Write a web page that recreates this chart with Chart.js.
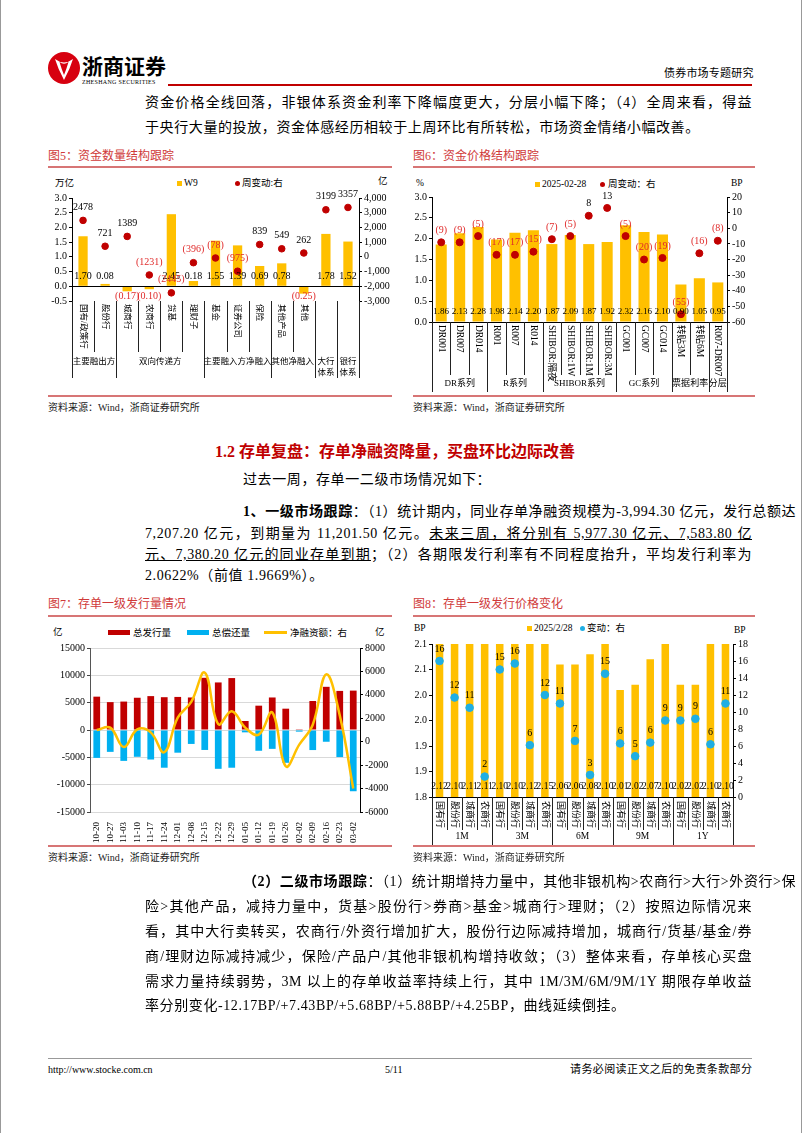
<!DOCTYPE html>
<html>
<head>
<meta charset="utf-8">
<script src="https://cdn.jsdelivr.net/npm/chart.js@4.4.1/dist/chart.umd.min.js"></script>
<style>
body{margin:0;width:802px;height:1133px;position:relative;background:#fff;overflow:hidden;
  font-family:"Liberation Serif","Noto Sans CJK SC",serif;color:#000}
.a{position:absolute;white-space:nowrap}
.p{position:absolute;font-size:14px;line-height:20px;letter-spacing:0.6px;white-space:nowrap}
.j{text-align:justify;text-align-last:justify}
.ft{font-size:12px;color:#D03A3A;line-height:14px}
.src{font-size:10px;line-height:12px;color:#222}
.lg{position:absolute;font-size:9.5px;line-height:12px;white-space:nowrap}
.rule{position:absolute;height:2px;background:#D77575}
canvas{position:absolute}
</style>
</head>
<body>
<div style="position:absolute;left:0;top:0;width:1px;height:1133px;background:#999"></div>
<div style="position:absolute;left:801px;top:0;width:1px;height:1133px;background:#999"></div>

<!-- header -->
<svg style="position:absolute;left:47px;top:51px" width="34" height="34" viewBox="0 0 34 34">
  <circle cx="17" cy="17" r="16" fill="#D7000F"/>
  <path d="M8 8 Q17 15 26 8 Q23 18 17 29 Q11 18 8 8Z" fill="#fff"/>
  <path d="M12.5 11 Q17 14.5 21.5 11 Q19.5 18 17 24 Q14.5 18 12.5 11Z" fill="#D7000F"/>
</svg>
<div class="a" style="left:82px;top:52px;font-size:21px;font-weight:bold;line-height:26px;font-family:'Noto Sans CJK SC'">浙商证券</div>
<div class="a" style="left:82px;top:79px;font-size:6px;line-height:7px;letter-spacing:0.3px">ZHESHANG SECURITIES</div>
<div class="a" style="left:664px;top:66px;font-size:11px;line-height:14px;letter-spacing:0.2px">债券市场专题研究</div>
<div style="position:absolute;left:168px;top:84px;width:584px;height:2px;background:#C00000"></div>

<div class="p j" style="left:145px;top:93px;width:607px">资金价格全线回落，非银体系资金利率下降幅度更大，分层小幅下降；（4）全周来看，得益</div>
<div class="p" style="left:145px;top:118px">于央行大量的投放，资金体感经历相较于上周环比有所转松，市场资金情绪小幅改善。</div>

<!-- figure 5 / 6 -->
<div class="a ft" style="left:48px;top:149px">图5：资金数量结构跟踪</div>
<div class="a ft" style="left:413px;top:149px">图6：资金价格结构跟踪</div>
<div class="rule" style="left:48px;top:166px;width:344px"></div>
<div class="rule" style="left:413px;top:166px;width:342px"></div>

<div class="lg" style="left:55px;top:177px">万亿</div>
<div class="lg" style="left:378px;top:175px">亿</div>
<div class="lg" style="left:177px;top:177px"><span style="display:inline-block;width:5px;height:5px;background:#FFC000;margin-right:2px"></span>W9</div>
<div class="lg" style="left:235px;top:177px"><span style="display:inline-block;width:5px;height:5px;border-radius:50%;background:#C00000;margin-right:2px"></span>周变动:右</div>

<div class="lg" style="left:416px;top:177px">%</div>
<div class="lg" style="left:731px;top:177px">BP</div>
<div class="lg" style="left:535px;top:178px"><span style="display:inline-block;width:5px;height:5px;background:#FFC000;margin-right:2px"></span>2025-02-28</div>
<div class="lg" style="left:600px;top:178px"><span style="display:inline-block;width:5px;height:5px;border-radius:50%;background:#C00000;margin-right:3px"></span>周变动：右</div>

<canvas id="c5" width="360" height="225" style="left:40px;top:170px"></canvas>
<canvas id="c6" width="355" height="225" style="left:405px;top:170px"></canvas>

<div class="rule" style="left:48px;top:395px;width:344px"></div>
<div class="rule" style="left:413px;top:395px;width:342px"></div>
<div class="a src" style="left:48px;top:402px">资料来源：Wind，浙商证券研究所</div>
<div class="a src" style="left:413px;top:402px">资料来源：Wind，浙商证券研究所</div>

<!-- section 1.2 -->
<div class="a" style="left:215px;top:442px;font-size:16px;line-height:20px;font-weight:bold;color:#C00000">1.2 存单复盘：存单净融资降量，买盘环比边际改善</div>
<div class="p" style="left:243px;top:470px">过去一周，存单一二级市场情况如下：</div>
<div class="p j" style="left:243px;top:502px;width:509px"><b>1、一级市场跟踪</b>：（1）统计期内，同业存单净融资规模为-3,994.30 亿元，发行总额达</div>
<div class="p j" style="left:145px;top:524px;width:607px">7,207.20 亿元，到期量为 11,201.50 亿元。<u>未来三周，将分别有 5,977.30 亿元、7,583.80 亿</u></div>
<div class="p j" style="left:145px;top:545px;width:607px"><u>元、7,380.20 亿元的同业存单到期</u>；（2）各期限发行利率有不同程度抬升，平均发行利率为</div>
<div class="p" style="left:145px;top:566px">2.0622%（前值 1.9669%）。</div>

<!-- figure 7 / 8 -->
<div class="a ft" style="left:48px;top:597px">图7：存单一级发行量情况</div>
<div class="a ft" style="left:413px;top:597px">图8：存单一级发行价格变化</div>
<div class="rule" style="left:48px;top:615px;width:344px"></div>
<div class="rule" style="left:413px;top:615px;width:342px"></div>

<div class="lg" style="left:53px;top:626px">亿</div>
<div class="lg" style="left:375px;top:626px">亿</div>
<div class="lg" style="left:108px;top:627px"><span style="display:inline-block;width:22px;height:5px;background:#C00000;margin-right:3px;vertical-align:1px"></span>总发行量</div>
<div class="lg" style="left:187px;top:627px"><span style="display:inline-block;width:22px;height:5px;background:#00B0F0;margin-right:3px;vertical-align:1px"></span>总偿还量</div>
<div class="lg" style="left:264px;top:627px"><span style="display:inline-block;width:23px;height:3px;background:#FFC000;margin-right:3px;vertical-align:2px"></span>净融资额：右</div>

<div class="lg" style="left:414px;top:622px">BP</div>
<div class="lg" style="left:734px;top:624px">BP</div>
<div class="lg" style="left:527px;top:622px"><span style="display:inline-block;width:5px;height:5px;background:#FFC000;margin-right:2px"></span>2025/2/28</div>
<div class="lg" style="left:580px;top:622px"><span style="display:inline-block;width:5px;height:5px;border-radius:50%;background:#1FAEE3;margin-right:2px"></span>变动：右</div>

<canvas id="c7" width="360" height="225" style="left:40px;top:620px"></canvas>
<canvas id="c8" width="355" height="226" style="left:405px;top:620px"></canvas>

<div class="rule" style="left:48px;top:845px;width:344px"></div>
<div class="rule" style="left:413px;top:845px;width:342px"></div>
<div class="a src" style="left:48px;top:852px">资料来源：Wind，浙商证券研究所</div>
<div class="a src" style="left:413px;top:852px">资料来源：Wind，浙商证券研究所</div>

<!-- secondary market text -->
<div class="p j" style="left:243px;top:872px;width:509px"><b>（2）二级市场跟踪</b>：（1）统计期增持力量中，其他非银机构&gt;农商行&gt;大行&gt;外资行&gt;保</div>
<div class="p j" style="left:145px;top:897px;width:607px">险&gt;其他产品，减持力量中，货基&gt;股份行&gt;券商&gt;基金&gt;城商行&gt;理财；（2）按照边际情况来</div>
<div class="p j" style="left:145px;top:922px;width:607px">看，其中大行卖转买，农商行/外资行增加扩大，股份行边际减持增加，城商行/货基/基金/券</div>
<div class="p j" style="left:145px;top:947px;width:607px">商/理财边际减持减少，保险/产品户/其他非银机构增持收敛；（3）整体来看，存单核心买盘</div>
<div class="p j" style="left:145px;top:972px;width:607px">需求力量持续弱势，3M 以上的存单收益率持续上行，其中 1M/3M/6M/9M/1Y 期限存单收益</div>
<div class="p" style="left:145px;top:996px">率分别变化-12.17BP/+7.43BP/+5.68BP/+5.88BP/+4.25BP，曲线延续倒挂。</div>

<!-- footer -->
<div style="position:absolute;left:48px;top:1058px;width:704px;height:1px;background:#999"></div>
<div class="a" style="left:48px;top:1064px;font-size:10px;line-height:12px">http://www.stocke.com.cn</div>
<div class="a" style="left:385px;top:1064px;font-size:10px;line-height:12px">5/11</div>
<div class="a" style="left:570px;top:1063px;font-size:11px;line-height:13px;letter-spacing:0.4px">请务必阅读正文之后的免责条款部分</div>

<script>
const SERIF = '"Liberation Serif", "Noto Sans CJK SC", serif';
const RED_LBL = '#E02A2A';
Chart.defaults.font.family = SERIF;
Chart.defaults.font.size = 10;
Chart.defaults.color = '#000';
Chart.defaults.animation = false;
Chart.defaults.plugins.legend.display = false;
Chart.defaults.plugins.tooltip.enabled = false;

// ---- 图5 data ----
const f5Cats = ['国有/政策行', '股份行', '城商行', '农商行', '货基', '理财子', '基金', '证券公司', '保险', '其他产品', '其他', '', ''];
const f5W9 = [1.70, 0.08, -0.17, -0.10, 2.45, 0.18, 1.55, 1.39, 0.69, 0.78, -0.25, 1.78, 1.52];
const f5Chg = [2478, 721, 1389, -1231, -2445, -396, -78, -975, 839, 549, 262, 3199, 3357];
const f5Groups = [['主要融出方', 0, 1], ['双向传递方', 2, 5], ['主要融入方净融入', 6, 8], ['其他净融入', 9, 10], ['大行\n体系', 11, 11], ['银行\n体系', 12, 12]];

// ---- 图6 data ----
const f6Cats = ['DR001', 'DR007', 'DR014', 'R001', 'R007', 'R014', 'SHIBOR:隔夜', 'SHIBOR:1W', 'SHIBOR:1M', 'SHIBOR:3M', 'GC001', 'GC007', 'GC014', '转贴3M', '转贴6M', 'R007-DR007'];
const f6Rate = [1.86, 2.13, 2.28, 1.98, 2.14, 2.20, 1.87, 2.09, 1.87, 1.92, 2.32, 2.16, 2.10, 0.90, 1.05, 0.95];
const f6Chg = [-9, -9, -5, -17, -17, -15, -7, -5, 8, 13, -5, -20, -19, -55, -16, -8];
const f6Groups = [['DR系列', 0, 2], ['R系列', 3, 5], ['SHIBOR系列', 6, 9], ['GC系列', 10, 12], ['票据利率', 13, 14], ['分层', 15, 15]];

// ---- 图7 data ----
const f7Weeks = ['10-20', '10-27', '11-03', '11-10', '11-17', '11-24', '12-01', '12-08', '12-15', '12-22', '12-29', '01-05', '01-12', '01-19', '01-26', '02-02', '02-09', '02-16', '02-23', '03-02'];
const f7Issue = [6100, 5100, 5200, 5900, 6200, 6000, 6050, 5950, 9550, 8700, 9500, 1650, 4450, 5950, 3900, 150, 5300, 7900, 7150, 7207];
const f7Repay = [-5100, -4000, -5650, -4900, -5400, -6900, -4150, -2550, -3650, -7100, -6900, -430, -3800, -3450, -6000, -300, -3670, -2150, -4950, -11202];
const f7Net = [1000, 1200, -450, 1050, 800, -900, 2050, 3400, 5900, 1500, 2600, 1200, 600, 2500, -2100, -250, 1450, 5750, 2250, -3994];

// ---- 图8 data ----
const f8Cats = ['国有行', '股份行', '城商行', '农商行', '国有行', '股份行', '城商行', '农商行', '国有行', '股份行', '城商行', '农商行', '国有行', '股份行', '城商行', '农商行', '国有行', '股份行', '城商行', '农商行'];
const f8Rate = [2.12, 2.10, 2.11, 2.11, 2.10, 2.10, 2.12, 2.15, 2.06, 2.06, 2.08, 2.10, 2.01, 2.02, 2.07, 2.10, 2.02, 2.02, 2.10, 2.10];
const f8Chg = [16.0, 11.7, 10.5, 2.4, 15.0, 15.7, 6.1, 12.0, 11.0, 6.6, 2.6, 14.5, 6.3, 4.8, 6.4, 9.0, 9.0, 9.2, 6.2, 11.0];
const f8Groups = [['1M', 0, 3], ['3M', 4, 7], ['6M', 8, 11], ['9M', 12, 15], ['1Y', 16, 19]];

function seg(ctx, x1, y1, x2, y2, color, w) {
    ctx.save();
    ctx.strokeStyle = color;
    ctx.lineWidth = w || 1;
    ctx.beginPath();
    ctx.moveTo(x1, y1);
    ctx.lineTo(x2, y2);
    ctx.stroke();
    ctx.restore();
}

function paren(v) {
    return v < 0 ? '(' + Math.abs(v) + ')' : String(v);
}

// category cells under the plot: rotated names, separators, group names
function catTable(chart, labels, groups, o) {
    const ctx = chart.ctx, a = chart.chartArea, x = chart.scales.x;
    const n = labels.length;
    const px = i => x.getPixelForValue(i);
    const starts = groups.map(g => g[1]);
    for (let k = 0; k <= n; k++) {
        let bx = k === 0 ? a.left : (k === n ? a.right : (px(k - 1) + px(k)) / 2);
        bx = Math.round(bx) + 0.5;
        const isLong = k === 0 || k === n || starts.indexOf(k) >= 0;
        seg(ctx, bx, a.bottom, bx, isLong ? o.long : o.short, '#222', 1);
    }
    ctx.save();
    ctx.fillStyle = '#000';
    ctx.font = o.catFont;
    labels.forEach((t, i) => {
        if (!t) return;
        ctx.save();
        ctx.translate(px(i), o.labelTop);
        ctx.rotate(Math.PI / 2);
        ctx.textAlign = 'left';
        ctx.textBaseline = 'middle';
        ctx.fillText(t, 0, 0);
        ctx.restore();
    });
    ctx.font = o.grpFont;
    ctx.textAlign = 'center';
    ctx.textBaseline = 'middle';
    groups.forEach(g => {
        const cx = (px(g[1]) + px(g[2])) / 2;
        g[0].split('\n').forEach((s, j) => ctx.fillText(s, cx, o.grpY + j * 11));
    });
    ctx.restore();
}

function yAxis(pos, min, max, step, width, fmt, extra) {
    const s = {
        position: pos, min: min, max: max,
        ticks: { stepSize: step, padding: 2, autoSkip: false, callback: fmt, font: { size: 10 } },
        grid: { drawOnChartArea: false, tickLength: 3, color: '#000' },
        border: { color: '#000' },
        afterFit: sc => { sc.width = width; }
    };
    return Object.assign(s, extra || {});
}

function hiddenX(h) {
    return {
        grid: { display: false }, border: { display: false }, ticks: { display: false },
        afterFit: sc => { sc.height = h; }
    };
}

// ---- 图5 ----
new Chart(document.getElementById('c5'), {
    type: 'bar',
    data: {
        labels: f5Cats,
        datasets: [
            { type: 'line', data: f5Chg, yAxisID: 'yR', showLine: false, pointRadius: 3.3,
              pointBackgroundColor: '#C00000', pointBorderColor: '#C00000', order: 0 },
            { data: f5W9, yAxisID: 'yL', backgroundColor: '#FFC000', barPercentage: 0.42, categoryPercentage: 1, order: 1 }
        ]
    },
    options: {
        responsive: false,
        layout: { padding: { top: 28 } },
        scales: {
            x: hiddenX(94),
            yL: yAxis('left', -0.5, 3.0, 0.5, 32, v => v.toFixed(1)),
            yR: yAxis('right', -3000, 4000, 1000, 41, v => v.toLocaleString('en-US'))
        }
    },
    plugins: [{
        id: 'f5deco',
        afterDatasetsDraw(chart) {
            const ctx = chart.ctx, a = chart.chartArea, x = chart.scales.x;
            const yL = chart.scales.yL, yR = chart.scales.yR;
            const y0 = yL.getPixelForValue(0);
            seg(ctx, a.left, Math.round(y0) + 0.5, a.right, Math.round(y0) + 0.5, '#000', 1);
            ctx.save();
            ctx.font = '10px ' + SERIF;
            ctx.textAlign = 'center';
            ctx.textBaseline = 'middle';
            f5W9.forEach((v, i) => {
                const px = x.getPixelForValue(i);
                if (v >= 0) { ctx.fillStyle = '#000'; ctx.fillText(v.toFixed(2), px, y0 - 10); }
                else { ctx.fillStyle = RED_LBL; ctx.fillText('(' + (-v).toFixed(2) + ')', px, y0 + 10); }
            });
            f5Chg.forEach((v, i) => {
                ctx.fillStyle = v < 0 ? RED_LBL : '#000';
                ctx.fillText(paren(v), x.getPixelForValue(i), yR.getPixelForValue(v) - 13);
            });
            ctx.restore();
            catTable(chart, f5Cats, f5Groups, {
                short: 182, long: 208, labelTop: 134, grpY: 192,
                catFont: '8.5px ' + SERIF, grpFont: '8.5px ' + SERIF
            });
        }
    }]
});

// ---- 图6 ----
new Chart(document.getElementById('c6'), {
    type: 'bar',
    data: {
        labels: f6Cats,
        datasets: [
            { type: 'line', data: f6Chg, yAxisID: 'yR', showLine: false, pointRadius: 3.5,
              pointBackgroundColor: '#C00000', pointBorderColor: '#C00000', order: 0 },
            { data: f6Rate, yAxisID: 'yL', backgroundColor: '#FFC000', barPercentage: 0.6, categoryPercentage: 1, order: 1 }
        ]
    },
    options: {
        responsive: false,
        layout: { padding: { top: 27 } },
        scales: {
            x: hiddenX(73),
            yL: yAxis('left', 0, 3.0, 0.5, 27, v => v.toFixed(1)),
            yR: yAxis('right', -60, 20, 10, 33, v => String(v))
        }
    },
    plugins: [{
        id: 'f6deco',
        afterDatasetsDraw(chart) {
            const ctx = chart.ctx, a = chart.chartArea, x = chart.scales.x, yR = chart.scales.yR;
            seg(ctx, a.left, Math.round(a.bottom) + 0.5, a.right, Math.round(a.bottom) + 0.5, '#000', 1);
            ctx.save();
            ctx.font = '9px ' + SERIF;
            ctx.textAlign = 'center';
            ctx.textBaseline = 'middle';
            f6Rate.forEach((v, i) => {
                ctx.fillStyle = '#000';
                ctx.fillText(v.toFixed(2), x.getPixelForValue(i), a.bottom - 10);
            });
            ctx.font = '10px ' + SERIF;
            f6Chg.forEach((v, i) => {
                ctx.fillStyle = v < 0 ? RED_LBL : '#000';
                ctx.fillText(paren(v), x.getPixelForValue(i), yR.getPixelForValue(v) - 12);
            });
            ctx.restore();
            catTable(chart, f6Cats, f6Groups, {
                short: 205, long: 222, labelTop: 155, grpY: 214,
                catFont: '9.5px ' + SERIF, grpFont: '9px ' + SERIF
            });
        }
    }]
});

// ---- 图7 ----
new Chart(document.getElementById('c7'), {
    type: 'bar',
    data: {
        labels: f7Weeks,
        datasets: [
            { type: 'line', label: '净融资额：右', data: f7Net, yAxisID: 'yR', borderColor: '#FFC000',
              borderWidth: 2.5, tension: 0.4, pointRadius: 0, order: 0 },
            { label: '总发行量', data: f7Issue, yAxisID: 'yL', backgroundColor: '#C00000', barPercentage: 0.5, categoryPercentage: 1, order: 1 },
            { label: '总偿还量', data: f7Repay, yAxisID: 'yL', backgroundColor: '#00B0F0', barPercentage: 0.5, categoryPercentage: 1, order: 2 }
        ]
    },
    options: {
        responsive: false,
        layout: { padding: { top: 28 } },
        scales: {
            x: {
                stacked: true,
                grid: { display: false }, border: { display: false },
                ticks: { autoSkip: false, minRotation: 90, maxRotation: 90, padding: 2, font: { size: 9 } },
                afterFit: sc => { sc.height = 33; }
            },
            yL: yAxis('left', -15000, 15000, 5000, 50, v => String(v), {
                stacked: true,
                grid: { drawOnChartArea: true, tickLength: 3, color: '#D9D9D9', tickColor: '#444' },
                border: { color: '#555' }
            }),
            yR: yAxis('right', -6000, 8000, 2000, 40, v => String(v))
        }
    }
});

// ---- 图8 ----
new Chart(document.getElementById('c8'), {
    type: 'bar',
    data: {
        labels: f8Cats,
        datasets: [
            { type: 'line', data: f8Chg, yAxisID: 'yR', showLine: false, pointRadius: 3.8,
              pointBackgroundColor: '#1FAEE3', pointBorderColor: '#1FAEE3', order: 0 },
            { data: f8Rate, yAxisID: 'yL', backgroundColor: '#FFC000', barPercentage: 0.5, categoryPercentage: 1, order: 1 }
        ]
    },
    options: {
        responsive: false,
        layout: { padding: { top: 24 } },
        scales: {
            x: hiddenX(49),
            yL: yAxis('left', 1.8, 2.1, 0.05, 27, v => (v + 1e-9).toFixed(1)),
            yR: yAxis('right', 0, 18, 2, 27, v => String(v))
        }
    },
    plugins: [{
        id: 'f8deco',
        afterDatasetsDraw(chart) {
            const ctx = chart.ctx, a = chart.chartArea, x = chart.scales.x, yR = chart.scales.yR;
            seg(ctx, a.left, Math.round(a.bottom) + 0.5, a.right, Math.round(a.bottom) + 0.5, '#000', 1);
            ctx.save();
            ctx.font = '9.5px ' + SERIF;
            ctx.textAlign = 'center';
            ctx.textBaseline = 'middle';
            ctx.fillStyle = '#000';
            f8Rate.forEach((v, i) => ctx.fillText(v.toFixed(2), x.getPixelForValue(i), a.bottom - 11));
            ctx.font = '10px ' + SERIF;
            f8Chg.forEach((v, i) => ctx.fillText(String(Math.round(v)), x.getPixelForValue(i), yR.getPixelForValue(v) - 12));
            ctx.restore();
            catTable(chart, f8Cats, f8Groups, {
                short: 210, long: 225, labelTop: 181, grpY: 216,
                catFont: '9px ' + SERIF, grpFont: '9.5px ' + SERIF
            });
        }
    }]
});
</script>
</body>
</html>
